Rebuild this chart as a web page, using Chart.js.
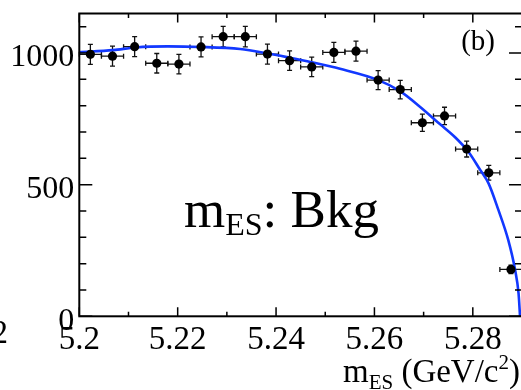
<!DOCTYPE html>
<html><head><meta charset="utf-8">
<script src="https://cdn.jsdelivr.net/npm/chart.js@4/dist/chart.umd.min.js"></script>
<style>
html,body{margin:0;padding:0;background:#fff;overflow:hidden;width:521px;height:390px}
#wrap{width:521px;height:390px;overflow:hidden;position:relative}
canvas{position:absolute;left:0;top:0}
</style></head>
<body><div id="wrap"><canvas id="c" width="540" height="390"></canvas></div>
<script>
// ---- data ----
const binCenters = [5.20225, 5.20675, 5.21125, 5.21575, 5.22025, 5.22475, 5.22925, 5.23375, 5.23825, 5.24275,
                    5.24725, 5.25175, 5.25625, 5.26075, 5.26525, 5.26975, 5.27425, 5.27875, 5.28325, 5.28775];
const binHalfWidth = 0.00225;
const counts = [995, 988, 1024, 961, 958, 1023, 1062, 1062, 996, 971,
                947, 1002, 1007, 897, 861, 735, 761, 635, 545, 178];
const countErrors = [38, 38, 38, 37, 37, 38, 39, 39, 38, 37,
                     37, 38, 38, 36, 35, 33, 33, 30, 28, 16];
const fitX = [5.2, 5.2069, 5.2114, 5.218, 5.2246, 5.2327, 5.2381, 5.2428, 5.2472, 5.2530, 5.2608, 5.2652,
              5.2693, 5.2733, 5.2764, 5.2791, 5.2815, 5.2832, 5.2852, 5.2872, 5.2886, 5.2893, 5.2896];
const fitY = [1003, 1011, 1021, 1025, 1023, 1015, 999, 982, 965, 940, 897, 855,
              795, 730, 680, 625, 556, 505, 404, 290, 176, 87, 0];
const xTickValues = [5.2, 5.22, 5.24, 5.26, 5.28];
const xTickLabels = ['5.2', '5.22', '5.24', '5.26', '5.28'];
const yTickValues = [0, 500, 1000];
const yTickLabels = ['0', '500', '1000'];

const SERIF = "'Liberation Serif', 'Times New Roman', serif";

function drawRuns(ctx, runs, x, y, align) {
  let total = 0;
  runs.forEach(r => { ctx.font = r.size + 'px ' + SERIF; r.w = ctx.measureText(r.t).width; total += r.w; });
  let cx = align === 'right' ? x - total : x;
  ctx.textAlign = 'left'; ctx.textBaseline = 'alphabetic';
  runs.forEach(r => { ctx.font = r.size + 'px ' + SERIF; ctx.fillText(r.t, cx, y + (r.dy || 0)); cx += r.w; });
}

const errorBars = {
  id: 'errorBars',
  beforeDatasetsDraw(chart) {
    const {ctx, scales: {x, y}} = chart;
    ctx.save();
    ctx.strokeStyle = '#111'; ctx.lineWidth = 1.3;
    const cap = 2.5;
    binCenters.forEach((c, i) => {
      const px = x.getPixelForValue(c), py = y.getPixelForValue(counts[i]);
      const xl = x.getPixelForValue(c - binHalfWidth), xr = x.getPixelForValue(c + binHalfWidth);
      const yt = y.getPixelForValue(counts[i] + countErrors[i]), yb = y.getPixelForValue(counts[i] - countErrors[i]);
      ctx.beginPath();
      ctx.moveTo(xl, py); ctx.lineTo(xr, py);
      ctx.moveTo(xl, py - cap); ctx.lineTo(xl, py + cap);
      ctx.moveTo(xr, py - cap); ctx.lineTo(xr, py + cap);
      ctx.moveTo(px, yt); ctx.lineTo(px, yb);
      ctx.moveTo(px - cap, yt); ctx.lineTo(px + cap, yt);
      ctx.moveTo(px - cap, yb); ctx.lineTo(px + cap, yb);
      ctx.stroke();
    });
    ctx.restore();
  }
};

const frame = {
  id: 'frame',
  afterDraw(chart) {
    const {ctx, chartArea: a, scales: {x, y}} = chart;
    ctx.save();
    ctx.strokeStyle = '#000';
    ctx.lineWidth = 1.5;
    ctx.beginPath();
    for (let k = 0; k <= 9; k++) {
      const v = 5.2 + k * 0.01;
      const px = x.getPixelForValue(v);
      const len = (k % 2 === 0) ? 9 : 4.5;
      ctx.moveTo(px, a.bottom); ctx.lineTo(px, a.bottom - len);
      ctx.moveTo(px, a.top); ctx.lineTo(px, a.top + len);
    }
    for (let k = 0; k <= 11; k++) {
      const py = y.getPixelForValue(k * 100);
      const len = (k % 5 === 0) ? 13 : 7;
      ctx.moveTo(a.left, py); ctx.lineTo(a.left + len, py);
      ctx.moveTo(a.right, py); ctx.lineTo(a.right - len, py);
    }
    ctx.stroke();
    ctx.lineWidth = 2;
    ctx.strokeRect(a.left, a.top, a.right - a.left, a.bottom - a.top);
    // texts
    ctx.fillStyle = '#000';
    drawRuns(ctx, [{t: '(b)', size: 29}], 495, 50, 'right');
    drawRuns(ctx, [{t: 'm', size: 53}, {t: 'ES', size: 32, dy: 8}, {t: ': Bkg', size: 53}], 184, 227, 'left');
    drawRuns(ctx, [{t: 'm', size: 33}, {t: 'ES', size: 21, dy: 7}, {t: ' (GeV/c', size: 33},
                   {t: '2', size: 21, dy: -13}, {t: ')', size: 33}], 520, 382, 'right');
    drawRuns(ctx, [{t: '5.2', size: 33}], 8, 343, 'right');
    ctx.restore();
  }
};

new Chart(document.getElementById('c').getContext('2d'), {
  type: 'scatter',
  data: {
    datasets: [
      {label: 'data', data: binCenters.map((c, i) => ({x: c, y: counts[i]})),
       pointRadius: 4.6, pointBackgroundColor: '#000', pointBorderColor: '#000', pointBorderWidth: 0, showLine: false},
      {label: 'fit', data: fitX.map((v, i) => ({x: v, y: fitY[i]})), showLine: true, pointRadius: 0,
       borderColor: '#1238ff', borderWidth: 2.6, cubicInterpolationMode: 'monotone', fill: false}
    ]
  },
  options: {
    responsive: false, devicePixelRatio: 1, animation: false, events: [],
    layout: {padding: {left: 0, top: 13.5, right: 18, bottom: 0}},
    plugins: {legend: {display: false}, tooltip: {enabled: false}},
    scales: {
      x: {
        type: 'linear', min: 5.2, max: 5.29,
        grid: {display: false, drawTicks: false}, border: {display: false},
        afterBuildTicks: s => { s.ticks = xTickValues.map(v => ({value: v})); },
        afterFit: s => { s.height = 73.7; s.paddingLeft = 0; s.paddingRight = 0; },
        ticks: {font: {family: SERIF, size: 33}, color: '#000', padding: 4, maxRotation: 0, autoSkip: false,
                callback: (v, i) => xTickLabels[i]}
      },
      y: {
        type: 'linear', min: 0, max: 1150,
        grid: {display: false, drawTicks: false}, border: {display: false},
        afterBuildTicks: s => { s.ticks = yTickValues.map(v => ({value: v})); },
        afterFit: s => { s.width = 79.3; s.paddingTop = 0; s.paddingBottom = 0; },
        ticks: {font: {family: SERIF, size: 32}, color: '#000', padding: 5, labelOffset: 5, autoSkip: false,
                callback: (v, i) => yTickLabels[i]}
      }
    }
  },
  plugins: [errorBars, frame]
});
</script></body></html>
